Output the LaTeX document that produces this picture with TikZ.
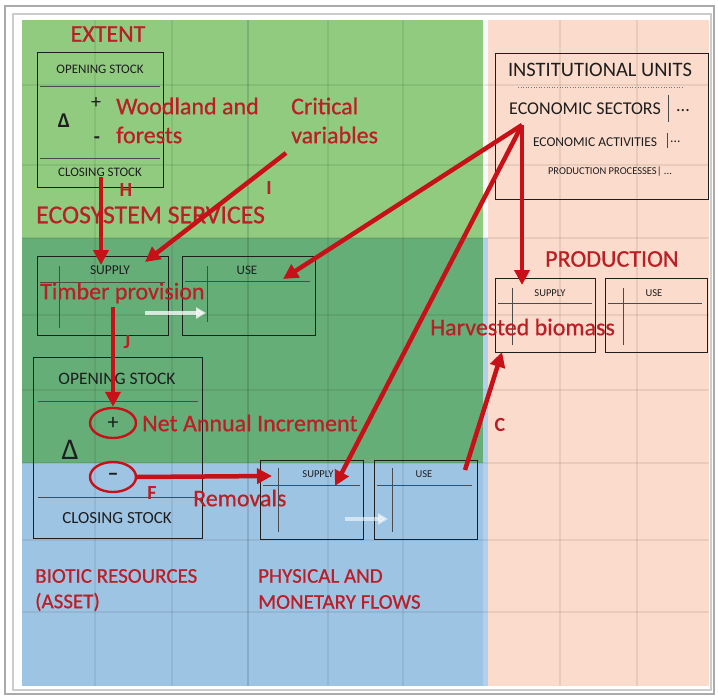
\documentclass[tikz,border=0pt]{standalone}
\usepackage{fontspec}
\setmainfont{Carlito}
\newfontfamily\heavyface[FakeBold=0.6]{Carlito}
\usetikzlibrary{arrows.meta,calc,shapes.geometric}

\definecolor{greenTop}{RGB}{144,203,128}
\definecolor{greenMid}{RGB}{102,174,120}
\definecolor{blueLow}{RGB}{158,196,228}
\definecolor{blueStrip}{RGB}{178,208,236}
\definecolor{peach}{RGB}{251,219,203}
\definecolor{lblred}{RGB}{188,30,38}
\definecolor{arrred}{RGB}{200,16,24}
\definecolor{ink}{RGB}{30,30,30}
\definecolor{frameGray}{RGB}{170,170,170}

\newcommand\fsz[1]{\fontsize{#1}{#1}\selectfont}

\tikzset{
  gridln/.style={line width=2.5pt, black, opacity=0.07},
  panel/.style={draw=ink, line width=0.9pt, inner sep=0pt, anchor=north west},
  rule/.style={draw=ink!80, line width=0.6pt},
  lbl/.style={text=lblred, inner sep=0pt, anchor=west},
  tag/.style={text=lblred, inner sep=0pt, font=\fsz{20}\bfseries},
  txt/.style={text=ink, inner sep=0pt},
  redarrow/.style={draw=arrred, line width=4.5pt, -{Triangle[length=15pt,width=15pt]}},
  ghostarrow/.style={draw=white, opacity=0.75, line width=4pt, -{Triangle[length=10pt,width=11pt]}},
  ring/.style={ellipse, draw=arrred, line width=2.4pt, minimum width=46pt, minimum height=30pt, inner sep=0pt, text=ink},
}

\begin{document}
\begin{tikzpicture}[x=1pt,y=-1pt]
\useasboundingbox (0,0) rectangle (718,698);

% sheet background and frame
\fill[white] (0,0) rectangle (718,698);
\draw[frameGray, line width=2pt] (5,6) rectangle (714,694);
\draw[frameGray!60, line width=1.5pt] (13,14) rectangle (711,690);

% coloured areas
\fill[greenTop] (22,20) rectangle (483,238);
\fill[greenMid] (22,238) rectangle (483,463);
\fill[blueLow] (22,463) rectangle (483,686);
\fill[peach] (488,20) rectangle (709,686);
\fill[white!92!blueLow] (483,20) rectangle (488,238);
\fill[blueStrip] (483,238) rectangle (488,686);

% faint spreadsheet grid
\foreach \gx in {95,172,248,328,403,560,637}
  \draw[gridln] (\gx,20) -- (\gx,686);
\draw[line width=2.5pt, black, opacity=0.06] (248,20) -- (248,686);
\foreach \gy in {85,165,238,315,390,463,540,612}
  \draw[gridln] (22,\gy) -- (709,\gy);

% ---------- EXTENT ----------
\node[lbl, anchor=center, font=\heavyface\fsz{24}] (extentTitle) at (108,34) {EXTENT};
\node[panel, minimum width=126pt, minimum height=135pt] (extentBox) at (37,52) {};
\draw[rule] (40,86) -- (160,86);
\draw[rule] (40,158) -- (160,158);
\node[txt, font=\fsz{13}] (extOpen) at (100,69) {OPENING STOCK};
\node[txt, font=\fsz{13}] (extClose) at (100,172) {CLOSING STOCK};
\node[txt, font=\fsz{21}\bfseries] (extDelta) at (64,121) {Δ};
\node[txt, font=\fsz{20}] (extPlus) at (96,103) {+};
\node[txt, font=\fsz{20}\bfseries] (extMinus) at (97,140) {-};
\node[lbl, font=\heavyface\fsz{24}] (woodA) at (116,106) {Woodland and};
\node[lbl, font=\heavyface\fsz{24}] (woodB) at (116,135) {forests};
\node[lbl, font=\heavyface\fsz{24}] (critA) at (291,106) {Critical};
\node[lbl, font=\heavyface\fsz{24}] (critB) at (291,135) {variables};
\node[tag] (tagH) at (126,190) {H};
\node[tag] (tagI) at (269,188) {I};
\node[lbl, font=\heavyface\fsz{25.8}] (ecoTitle) at (36,215) {ECOSYSTEM SERVICES};

% ---------- ecosystem services supply / use ----------
\node[panel, minimum width=131pt, minimum height=79pt] (supplyA) at (37,256) {};
\draw[rule] (40,282) -- (165,282);
\draw[rule] (59,266) -- (59,328);
\node[txt, font=\fsz{13.5}] (supplyAText) at (110,270) {SUPPLY};
\node[panel, minimum width=133pt, minimum height=79pt] (useA) at (182,256) {};
\draw[rule] (185,281) -- (310,281);
\draw[rule] (207,266) -- (207,322);
\node[txt, font=\fsz{13}] (useAText) at (247,270) {USE};
\node[lbl, font=\heavyface\fsz{24}] (timber) at (40,293) {Timber provision};
\coordinate (ghostA0) at (145,313);
\coordinate (ghostA1) at (206,313);
\draw[ghostarrow] (ghostA0) -- (ghostA1);

% ---------- biotic resources (asset) ----------
\node[panel, minimum width=169pt, minimum height=181pt] (assetBox) at (33,357) {};
\draw[rule] (38,401) -- (198,401);
\draw[rule] (38,497) -- (198,497);
\node[txt, font=\fsz{17.5}] (assetOpen) at (117,379) {OPENING STOCK};
\node[txt, font=\fsz{17}] (assetClose) at (117,518) {CLOSING STOCK};
\node[txt, font=\fsz{30}] (assetDelta) at (70,450) {Δ};
\node[ring, font=\fsz{22}] (plusRing) at (113,423) {+};
\node[ring, font=\fsz{22}\bfseries] (minusRing) at (113,477) {–};
\node[lbl, font=\heavyface\fsz{24}] (nai) at (142,423) {Net Annual Increment};
\node[tag] (tagJ) at (127,342) {J};
\node[tag] (tagF) at (152,493) {F};
\node[lbl, font=\heavyface\fsz{24}] (removals) at (193,498) {Removals};
\node[lbl, font=\heavyface\fsz{21}] (bioA) at (35,576) {BIOTIC RESOURCES};
\node[lbl, font=\heavyface\fsz{21}] (bioB) at (35,602) {(ASSET)};

% ---------- physical and monetary flows ----------
\node[panel, minimum width=103pt, minimum height=79pt] (supplyB) at (260,460) {};
\draw[rule] (263,485) -- (360,485);
\draw[rule] (278,468) -- (278,532);
\node[txt, font=\fsz{10.5}] (supplyBText) at (318,474) {SUPPLY};
\node[panel, minimum width=103pt, minimum height=79pt] (useB) at (374,460) {};
\draw[rule] (377,485) -- (472,485);
\draw[rule] (392,468) -- (392,532);
\node[txt, font=\fsz{10.5}] (useBText) at (424,474) {USE};
\coordinate (ghostB0) at (345,519);
\coordinate (ghostB1) at (388,519);
\draw[ghostarrow, opacity=0.55] (ghostB0) -- (ghostB1);
\node[lbl, font=\heavyface\fsz{21}] (flowA) at (258,576) {PHYSICAL AND};
\node[lbl, font=\heavyface\fsz{21}] (flowB) at (258,602) {MONETARY FLOWS};

% ---------- institutional units ----------
\node[panel, minimum width=213pt, minimum height=146pt] (iuBox) at (495,53) {};
\node[txt, font=\fsz{20.5}] (iuTitle) at (600,70) {INSTITUTIONAL UNITS};
\draw[ink!60, line width=0.6pt, dotted] (518,87) -- (682,87);
\node[txt, font=\fsz{18}] (iuSectors) at (585,109) {ECONOMIC SECTORS};
\draw[rule] (668,95) -- (668,122);
\node[txt, font=\fsz{18}, anchor=west] (iuSectorsMore) at (676,111) {...};
\node[txt, font=\fsz{13.5}] (iuActivities) at (595,142) {ECONOMIC ACTIVITIES};
\draw[rule] (667,133) -- (667,148);
\node[txt, font=\fsz{13.5}, anchor=west] (iuActivitiesMore) at (670,142) {...};
\node[txt, font=\fsz{10.5}] (iuProcesses) at (610,172) {PRODUCTION PROCESSES| ...};
\coordinate (hub) at (522,125);

% ---------- production ----------
\node[lbl, font=\heavyface\fsz{24}] (prodTitle) at (545,259) {PRODUCTION};
\node[panel, minimum width=100pt, minimum height=74pt] (supplyC) at (495,278) {};
\draw[rule] (498,303) -- (592,303);
\draw[rule] (512,288) -- (512,345);
\node[txt, font=\fsz{10.5}] (supplyCText) at (550,293) {SUPPLY};
\node[panel, minimum width=102pt, minimum height=74pt] (useC) at (605,278) {};
\draw[rule] (608,303) -- (702,303);
\draw[rule] (623,288) -- (623,345);
\node[txt, font=\fsz{10.5}] (useCText) at (654,293) {USE};
\node[lbl, font=\heavyface\fsz{24}] (harvest) at (430,327) {Harvested biomass};
\node[tag] (tagC) at (500,425) {C};

% ---------- red flow arrows ----------
\coordinate (hStart) at (101,177);
\coordinate (hEnd) at (101,265);
\coordinate (iStart) at (286,153);
\coordinate (iEnd) at (145,262);
\coordinate (useAEnd) at (283,279);
\coordinate (supplyBEnd) at (335,486);
\coordinate (supplyCEnd) at (522,285);
\coordinate (jStart) at (113,307);
\coordinate (fEnd) at (272,476);
\coordinate (cStart) at (465,470);
\coordinate (cEnd) at (502,352);

\draw[redarrow] (hStart) -- (hEnd);
\draw[redarrow] (iStart) -- (iEnd);
\draw[redarrow] (hub) -- (useAEnd);
\draw[redarrow] (hub) -- (supplyBEnd);
\draw[redarrow] (hub) -- (supplyCEnd);
\draw[redarrow] (jStart) -- (plusRing.north);
\draw[redarrow] (minusRing.east) -- (fEnd);
\draw[redarrow] (cStart) -- (cEnd);
\end{tikzpicture}
\end{document}
